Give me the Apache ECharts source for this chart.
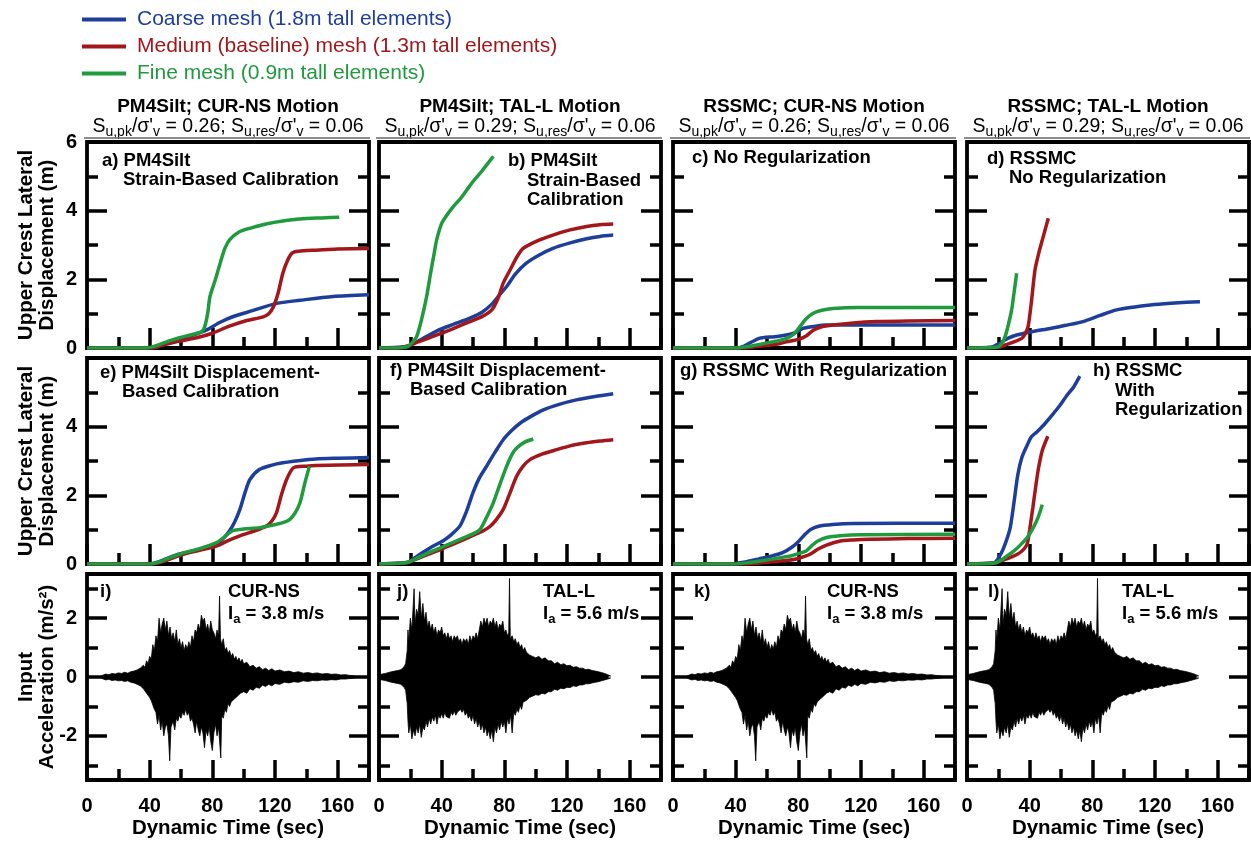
<!DOCTYPE html>
<html><head><meta charset="utf-8">
<script src="https://cdn.jsdelivr.net/npm/echarts@6/dist/echarts.min.js"></script>
<style>html,body{margin:0;padding:0;background:#fff}#c{width:1251px;height:841px}</style>
</head><body><div id="c"></div><script>
// ---------------- DATA ----------------
const meshNames = ['Coarse mesh (1.8m tall elements)', 'Medium (baseline) mesh (1.3m tall elements)', 'Fine mesh (0.9m tall elements)'];
const colHeaders = ['PM4Silt; CUR-NS Motion', 'PM4Silt; TAL-L Motion', 'RSSMC; CUR-NS Motion', 'RSSMC; TAL-L Motion'];
const suPk = ['0.26', '0.29', '0.26', '0.29'];
const suRes = ['0.06', '0.06', '0.06', '0.06'];
const xTicks = [0, 40, 80, 120, 160];

// displacement time histories [time (s), displacement (m)]
const coarseA = [[0,0],[40,0],[45,0.05],[50,0.15],[59,0.25],[68,0.38],[76,0.52],[85,0.75],[93,0.91],[105,1.08],[121,1.3],[136,1.39],[157,1.5],[180,1.55]];
const mediumA = [[0,0],[42,0],[48,0.08],[59,0.2],[70,0.3],[80,0.43],[90,0.62],[102,0.8],[112,0.9],[116,1.0],[119,1.2],[122,1.6],[125,2.18],[128,2.55],[131,2.77],[135,2.82],[146,2.85],[160,2.88],[180,2.9]];
const fineA = [[0,0],[38,0],[45,0.08],[52,0.2],[59,0.3],[66,0.38],[73,0.47],[75,0.6],[77,1.0],[78.5,1.5],[82,2.0],[85,2.47],[88,2.9],[91,3.15],[97,3.38],[105,3.5],[115,3.62],[125,3.7],[136,3.76],[150,3.79],[161,3.81]];

const coarseB = [[0,0],[12,0.02],[18,0.05],[25,0.2],[37,0.5],[47,0.68],[58,0.87],[66,1.05],[72.5,1.3],[77,1.55],[81.5,1.79],[87,2.15],[94,2.47],[102,2.7],[111,2.9],[122,3.06],[132.5,3.18],[141,3.25],[149.5,3.29]];
const mediumB = [[0,0],[12,0],[18,0.05],[25,0.18],[37,0.38],[47,0.56],[58,0.77],[66,0.92],[72,1.11],[76,1.45],[79.3,1.89],[84,2.3],[88,2.65],[92,2.9],[100,3.1],[111,3.29],[122,3.44],[132.5,3.54],[141,3.59],[149.5,3.61]];
const fineB = [[0,0],[14,0.01],[18.5,0.05],[21,0.15],[24,0.33],[27,0.8],[30.4,1.5],[33,2.2],[35,2.7],[36.8,3.15],[40,3.63],[43,3.85],[47.4,4.12],[52,4.35],[56,4.6],[60,4.85],[64.5,5.09],[69,5.35],[73,5.58]];

const coarseC = [[0,0],[40,0],[45,0.05],[55,0.28],[65,0.33],[72.5,0.38],[78,0.45],[83,0.57],[90,0.63],[98,0.67],[180,0.67]];
const mediumC = [[0,0],[45,0],[55,0.05],[65,0.1],[72.5,0.18],[80,0.25],[85,0.35],[89.5,0.52],[95,0.62],[102,0.67],[115,0.73],[130,0.77],[150,0.79],[180,0.8]];
const fineC = [[0,0],[40,0],[50,0.06],[60,0.15],[68,0.22],[72.5,0.28],[77,0.4],[81,0.62],[85,0.85],[89.5,1.01],[95,1.1],[102,1.15],[118,1.18],[180,1.18]];

const coarseD = [[0,0],[15,0.02],[21,0.14],[26,0.28],[31.7,0.38],[42,0.48],[53,0.57],[63,0.66],[74,0.77],[85,0.95],[95.5,1.11],[106,1.19],[117,1.25],[130,1.3],[140,1.33],[148.7,1.35]];
const mediumD = [[0,0],[20,0.02],[25,0.1],[30,0.18],[35,0.28],[37,0.4],[39,0.62],[41,1.3],[43.4,2.27],[46,2.8],[48.7,3.25],[51.9,3.78]];
const fineD = [[0,0],[19,0.02],[22,0.12],[24.3,0.33],[26.5,0.7],[28.5,1.11],[30,1.6],[31.7,2.18]];

const coarseE = [[0,0],[40,0],[45,0.05],[52,0.18],[59,0.29],[70,0.4],[80.6,0.53],[86,0.7],[91,0.97],[94,1.2],[97.6,1.59],[101,2.1],[104,2.46],[110,2.75],[118,2.88],[125,2.95],[135,3.01],[146,3.06],[160,3.08],[180,3.1]];
const mediumE = [[0,0],[42,0],[48,0.06],[55,0.18],[62,0.29],[72,0.4],[83,0.53],[90,0.68],[97.6,0.82],[106,0.95],[114.7,1.11],[118,1.25],[121,1.5],[124,2.0],[127.4,2.46],[131.7,2.8],[140,2.85],[146,2.87],[180,2.9]];
const fineE = [[0,0],[40,0],[46,0.06],[54,0.2],[62,0.33],[72,0.45],[83,0.63],[88,0.8],[93,0.97],[100,1.02],[110,1.06],[121,1.16],[126,1.22],[129.5,1.3],[133,1.5],[136,1.79],[139,2.35],[142,2.85]];

const coarseF = [[0,0],[12,0.02],[18.5,0.05],[25,0.25],[33,0.48],[41,0.68],[46,0.85],[51.7,1.11],[56,1.55],[60,2.08],[64,2.5],[68.7,2.85],[74,3.25],[79.3,3.62],[85,3.9],[90,4.1],[97,4.3],[104.9,4.49],[115,4.65],[126,4.78],[138,4.88],[149.5,4.96]];
const mediumF = [[0,0],[12,0.02],[18.5,0.05],[28,0.22],[38,0.4],[47.4,0.58],[57,0.77],[66.6,0.97],[71,1.1],[75,1.3],[79.3,1.59],[83,2.0],[87.9,2.56],[92,2.85],[96.4,3.04],[104,3.2],[113.4,3.33],[122,3.44],[132.5,3.53],[141,3.58],[149.5,3.62]];
const fineF = [[0,0],[12,0.02],[18.5,0.05],[28,0.25],[38,0.45],[47.4,0.63],[56,0.8],[61,0.9],[64.5,1.01],[68,1.3],[73,1.79],[77,2.3],[81.5,2.85],[85,3.2],[87.9,3.38],[93,3.55],[98.5,3.64]];

const coarseG = [[0,0],[38,0],[45,0.05],[55,0.15],[63.6,0.24],[70,0.33],[75.6,0.48],[80,0.65],[84,0.85],[87.6,1.0],[93,1.1],[102,1.15],[115,1.18],[180,1.19]];
const mediumG = [[0,0],[44,0],[55,0.03],[65,0.07],[72,0.1],[78,0.14],[84,0.22],[88,0.3],[92.4,0.43],[98,0.55],[106.8,0.67],[115,0.7],[126,0.72],[150,0.74],[180,0.75]];
const fineG = [[0,0],[40,0],[50,0.05],[60,0.12],[68,0.18],[75.6,0.24],[80,0.3],[85,0.38],[89,0.55],[92.4,0.67],[98,0.77],[106.8,0.82],[120,0.85],[180,0.87]];

const coarseH = [[0,0],[15,0.02],[18,0.05],[21.6,0.29],[24.5,0.6],[27.6,1.06],[30,1.8],[32.4,2.59],[35,3.1],[38.4,3.46],[41,3.7],[44.4,3.84],[49,4.05],[54,4.32],[59,4.6],[63.6,4.9],[68,5.15],[72,5.47]];
const mediumH = [[0,0],[18,0.03],[22,0.1],[27,0.18],[32.4,0.29],[36,0.42],[38.4,0.58],[40,1.0],[42,1.63],[44,2.3],[45.6,2.78],[48,3.3],[51.6,3.72]];
const fineH = [[0,0],[18,0.03],[22,0.12],[26,0.25],[30,0.38],[34,0.55],[38.4,0.77],[41,0.95],[44.4,1.25],[46.5,1.5],[48,1.73]];

// input motions: envelope of acceleration [time (s), acc (m/s2)]
const curnsUpper = [[0,0],[8,0],[10,0.06],[12,0.1],[14,0.08],[16,0.12],[18,0.1],[20,0.14],[22,0.12],[24,0.16],[26,0.13],[28,0.18],[30,0.2],[31,0.16],[32,0.24],[33,0.2],[34,0.3],[35,0.25],[36,0.4],[37,0.32],[38,0.55],[39,0.45],[40,0.7],[41,0.6],[42,1.1],[43,0.9],[44,1.4],[45,1.2],[46,2.0],[47,1.5],[48,1.8],[49,2.0],[50,1.6],[51,1.9],[52,1.4],[53,1.7],[54,1.3],[55,1.5],[56,1.2],[57,1.6],[58,1.1],[59,1.3],[60,1.0],[61,1.2],[62,0.9],[63,1.1],[64,0.95],[65,1.2],[66,1.0],[67,1.4],[68,1.2],[69,1.6],[70,1.5],[71,1.8],[72,1.6],[73,2.1],[74,1.9],[75,2.0],[76,1.6],[77,1.8],[78,1.5],[79,1.9],[80,1.6],[81,1.5],[82,1.3],[83,1.6],[84,1.4],[84.6,2.75],[85.2,1.3],[86,1.1],[87,1.3],[88,0.9],[89,1.0],[90,0.8],[91,0.9],[92,0.7],[93,0.8],[94,0.6],[95,0.7],[96,0.55],[97,0.65],[98,0.5],[99,0.6],[100,0.45],[102,0.5],[104,0.35],[106,0.4],[108,0.3],[110,0.35],[112,0.25],[114,0.3],[116,0.22],[118,0.28],[120,0.2],[123,0.24],[126,0.18],[129,0.2],[132,0.15],[135,0.18],[138,0.13],[141,0.15],[144,0.12],[147,0.14],[150,0.1],[153,0.12],[156,0.09],[159,0.1],[162,0.07],[165,0.08],[168,0.05],[171,0.03],[174,0],[180,0]];
const curnsLower = [[0,0],[8,0],[10,-0.06],[12,-0.1],[14,-0.08],[16,-0.12],[18,-0.1],[20,-0.13],[22,-0.12],[24,-0.15],[26,-0.13],[28,-0.18],[30,-0.2],[31,-0.17],[32,-0.25],[33,-0.2],[34,-0.3],[35,-0.28],[36,-0.4],[37,-0.35],[38,-0.55],[39,-0.5],[40,-0.7],[41,-0.8],[42,-0.95],[43,-1.1],[44,-1.2],[45,-1.6],[46,-1.3],[47,-1.8],[48,-1.5],[49,-2.0],[50,-1.7],[51,-1.6],[52,-2.0],[52.8,-2.85],[53.6,-1.7],[55,-1.5],[56,-1.8],[57,-1.4],[58,-1.5],[59,-1.3],[60,-1.4],[61,-1.2],[62,-1.3],[63,-1.1],[64,-1.3],[65,-1.2],[66,-1.5],[67,-1.4],[68,-1.6],[69,-1.9],[70,-1.5],[71,-1.8],[72,-2.0],[73,-1.7],[74,-1.9],[75,-2.4],[76,-1.8],[77,-2.0],[78,-1.7],[79,-2.2],[80,-2.5],[81,-1.9],[82,-1.6],[83,-2.0],[84,-1.7],[85.4,-2.75],[86,-1.3],[87,-1.4],[88,-1.1],[89,-1.2],[90,-0.9],[91,-1.0],[92,-0.85],[93,-0.9],[94,-0.75],[95,-0.8],[96,-0.65],[97,-0.7],[98,-0.55],[99,-0.6],[100,-0.5],[102,-0.55],[104,-0.4],[106,-0.45],[108,-0.35],[110,-0.38],[112,-0.28],[114,-0.32],[116,-0.25],[118,-0.3],[120,-0.22],[123,-0.25],[126,-0.18],[129,-0.2],[132,-0.16],[135,-0.18],[138,-0.13],[141,-0.15],[144,-0.12],[147,-0.13],[150,-0.1],[153,-0.11],[156,-0.09],[159,-0.1],[162,-0.07],[165,-0.07],[168,-0.05],[171,-0.03],[174,0],[180,0]];
const tallUpper = [[0,0.08],[2,0.1],[4,0.12],[6,0.15],[8,0.18],[10,0.2],[12,0.22],[14,0.25],[15,0.3],[16,0.35],[17,0.45],[18,0.9],[18.5,1.6],[19,1.2],[20,2.0],[21,1.6],[22.4,3.0],[23,1.8],[24,2.3],[25,2.1],[26,2.9],[27,2.0],[28,2.5],[29,1.9],[30,2.2],[31,1.7],[32,1.9],[33,1.6],[34,1.8],[35,1.5],[36,1.7],[37,1.4],[38,1.6],[39,1.5],[40,1.7],[41,1.4],[42,1.5],[43,1.3],[44,1.5],[45,1.3],[46,1.4],[47,1.2],[48,1.4],[49,1.3],[50,1.4],[51,1.2],[52,1.3],[53,1.1],[54,1.3],[55,1.2],[56,1.3],[57,1.1],[58,1.4],[59,1.2],[60,1.4],[61,1.3],[62,1.5],[63,1.3],[64,1.6],[65,1.9],[66,1.7],[67,2.0],[68,1.8],[69,2.0],[70,1.7],[71,1.9],[72,1.8],[73,2.0],[74,1.7],[75,1.9],[76,1.6],[77,1.8],[78,1.7],[79,1.9],[80,1.5],[81,1.6],[82,1.4],[82.8,1.5],[83.3,3.35],[83.8,1.3],[85,1.4],[86,1.2],[87,1.3],[88,1.1],[89,1.2],[90,1.0],[91,1.1],[92,0.9],[93,1.0],[94,0.85],[95,0.8],[96,0.75],[97,0.8],[98,0.7],[99,0.75],[100,0.65],[102,0.7],[104,0.6],[106,0.65],[108,0.55],[110,0.55],[112,0.45],[114,0.5],[116,0.42],[118,0.45],[120,0.38],[122,0.4],[124,0.33],[126,0.35],[128,0.3],[130,0.3],[132,0.25],[134,0.26],[136,0.22],[138,0.2],[140,0.18],[142,0.15],[144,0.12],[146,0.08],[148,0.03]];
const tallLower = [[0,-0.08],[2,-0.1],[4,-0.12],[6,-0.15],[8,-0.18],[10,-0.2],[12,-0.22],[14,-0.25],[15,-0.3],[16,-0.35],[17,-0.45],[18,-0.9],[18.5,-1.5],[19,-1.9],[20,-1.6],[21,-2.1],[22,-1.8],[23,-2.0],[24,-1.7],[25,-1.9],[26,-1.6],[27,-2.05],[28,-1.7],[29,-1.8],[30,-1.5],[31,-1.7],[32,-1.4],[33,-1.6],[34,-1.35],[35,-1.5],[36,-1.3],[37,-1.6],[38,-1.3],[39,-1.4],[40,-1.25],[41,-1.4],[42,-1.2],[43,-1.35],[44,-1.3],[45,-1.4],[46,-1.2],[47,-1.3],[48,-1.15],[49,-1.3],[50,-1.2],[51,-1.25],[52,-1.1],[53,-1.2],[54,-1.1],[55,-1.3],[56,-1.2],[57,-1.4],[58,-1.3],[59,-1.5],[60,-1.3],[61,-1.6],[62,-1.4],[63,-1.7],[64,-1.5],[65,-1.8],[66,-1.6],[67,-1.9],[68,-1.7],[69,-2.0],[70,-1.8],[71,-2.1],[72,-1.8],[73,-2.2],[74,-1.7],[75,-1.9],[76,-1.6],[77,-1.8],[78,-1.5],[79,-1.7],[80,-1.5],[81,-1.9],[82,-1.4],[83,-1.6],[84,-1.3],[85,-1.9],[86,-1.2],[87,-1.3],[88,-1.1],[89,-1.2],[90,-0.95],[91,-1.1],[92,-0.85],[93,-0.9],[94,-0.8],[95,-0.75],[96,-0.7],[97,-0.75],[98,-0.65],[99,-0.7],[100,-0.6],[102,-0.62],[104,-0.55],[106,-0.58],[108,-0.5],[110,-0.5],[112,-0.42],[114,-0.45],[116,-0.38],[118,-0.4],[120,-0.35],[122,-0.36],[124,-0.3],[126,-0.32],[128,-0.27],[130,-0.27],[132,-0.23],[134,-0.23],[136,-0.2],[138,-0.18],[140,-0.16],[142,-0.13],[144,-0.1],[146,-0.07],[148,-0.03]];

const panelTexts = [
  ['a) PM4Silt', 'Strain-Based Calibration'],
  ['b) PM4Silt', 'Strain-Based', 'Calibration'],
  ['c) No Regularization'],
  ['d) RSSMC', 'No Regularization'],
  ['e) PM4Silt Displacement-', 'Based Calibration'],
  ['f) PM4Silt Displacement-', 'Based Calibration'],
  ['g) RSSMC With Regularization'],
  ['h) RSSMC', 'With', 'Regularization'],
  ['i)'], ['j)'], ['k)'], ['l)']
];
const motionNames = ['CUR-NS', 'TAL-L', 'CUR-NS', 'TAL-L'];
const motionIa = ['3.8', '5.6', '3.8', '5.6'];

// ---------------- LAYOUT / STYLE ----------------
const FONT = '"Liberation Sans", Arial, Helvetica, sans-serif';
const colLeft = [87, 379, 673, 967];
const rowTop = [142, 358, 574];
const W = 282, H = 206;
const meshColors = ['#1d3f9b', '#a3171b', '#1f9b3e'];
const panelTextPos = [
  [[102,161],[123,180]],
  [[508,161],[527,181],[527,200]],
  [[692,158]],
  [[987,159],[1009,178]],
  [[100,373],[122,392]],
  [[390,371],[410,390]],
  [[680,371]],
  [[1093,371],[1115,391],[1115,410]],
  [[100,592]],[[397,592]],[[694,592]],[[988,592]]
];
const motionTextX = [228, 543, 827, 1122];

const dispPanels = [
  [coarseA, mediumA, fineA], [coarseB, mediumB, fineB], [coarseC, mediumC, fineC], [coarseD, mediumD, fineD],
  [coarseE, mediumE, fineE], [coarseF, mediumF, fineF], [coarseG, mediumG, fineG], [coarseH, mediumH, fineH]
];
const motions = [[curnsUpper, curnsLower], [tallUpper, tallLower], [curnsUpper, curnsLower], [tallUpper, tallLower]];

const grids = [], xAxes = [], yAxes = [], series = [], graphics = [];
const tickStyle = {color: '#000', width: 3.5};
const labelStyle = {fontSize: 20, fontWeight: 'bold', color: '#000', fontFamily: FONT};
for (let r = 0; r < 3; r++) {
  for (let c = 0; c < 4; c++) {
    const g = r * 4 + c;
    const isAcc = r === 2;
    grids.push({left: colLeft[c], top: rowTop[r], width: W, height: H, show: true,
      borderColor: '#000', borderWidth: 3.8, backgroundColor: 'rgba(0,0,0,0)'});
    xAxes.push({gridIndex: g, type: 'value', min: 0, max: 180, interval: 40, position: 'bottom',
      axisLine: {show: false, onZero: false}, splitLine: {show: false},
      axisTick: {show: true, inside: true, length: 20, lineStyle: tickStyle},
      axisLabel: Object.assign({show: isAcc, showMaxLabel: false, margin: 16,
        formatter: v => xTicks.indexOf(v) >= 0 ? String(v) : ''}, labelStyle)});
    xAxes.push({gridIndex: g, type: 'value', min: 0, max: 180, interval: 20, position: 'bottom',
      axisLine: {show: false, onZero: false}, splitLine: {show: false},
      axisTick: {show: true, inside: true, length: 11, lineStyle: tickStyle}, axisLabel: {show: false}});
    ['left', 'right'].forEach(side => {
      const major = isAcc ? {min: -3.5, max: 3.5, splitNumber: 3} : {min: 0, max: 6, interval: 2};
      const minor = isAcc ? {min: -3.5, max: 3.5, splitNumber: 7} : {min: 0, max: 6, interval: 1};
      yAxes.push(Object.assign({gridIndex: g, type: 'value', position: side,
        axisLine: {show: false, onZero: false}, splitLine: {show: false},
        axisTick: {show: true, inside: true, length: 20, lineStyle: tickStyle},
        axisLabel: Object.assign({show: side === 'left' && c === 0, showMaxLabel: r === 0, showMinLabel: !isAcc,
          margin: 10, formatter: v => (Math.abs(v - Math.round(v)) < 1e-9 ? String(v) : '')}, labelStyle)}, major));
      yAxes.push(Object.assign({gridIndex: g, type: 'value', position: side,
        axisLine: {show: false, onZero: false}, splitLine: {show: false},
        axisTick: {show: true, inside: true, length: 11, lineStyle: tickStyle}, axisLabel: {show: false}}, minor));
    });
    if (!isAcc) {
      dispPanels[g].forEach((d, k) => {
        series.push({type: 'line', name: meshNames[k], xAxisIndex: g * 2, yAxisIndex: g * 4, data: d,
          symbol: 'none', showSymbol: false, smooth: 0.25, color: meshColors[k],
          lineStyle: {width: 3.5, color: meshColors[k]}, silent: true, z: 3});
      });
    } else {
      motions[c].forEach((d, k) => {
        series.push({type: 'line', name: 'acc' + g + '_' + k, xAxisIndex: g * 2, yAxisIndex: g * 4, data: d,
          symbol: 'none', showSymbol: false, color: '#000',
          lineStyle: {width: 0.8, color: '#000'}, areaStyle: {color: '#000', opacity: 1}, silent: true, z: 3});
      });
    }
    // panel annotation
    panelTexts[g].forEach((t, i) => {
      graphics.push({type: 'text', x: panelTextPos[g][i][0], y: panelTextPos[g][i][1], z: 10,
        style: {text: t, fill: '#000', font: 'bold 18.5px ' + FONT, textAlign: 'left', textVerticalAlign: 'middle'}});
    });
    if (isAcc) {
      graphics.push({type: 'text', x: motionTextX[c], y: 592, z: 10,
        style: {text: motionNames[c], fill: '#000', font: 'bold 18.5px ' + FONT, textAlign: 'left', textVerticalAlign: 'middle'}});
      graphics.push({type: 'text', x: motionTextX[c], y: 614, z: 10,
        style: {text: '{b|I}{s|a}{b| = ' + motionIa[c] + ' m/s}', textAlign: 'left', textVerticalAlign: 'middle',
          rich: {b: {fontSize: 18.5, fontWeight: 'bold', fontFamily: FONT, fill: '#000'},
                 s: {fontSize: 13, fontWeight: 'bold', fontFamily: FONT, fill: '#000', padding: [10, 0, 0, 0]}}}});
    }
  }
}
// column headers
for (let c = 0; c < 4; c++) {
  const cx = colLeft[c] + W / 2;
  graphics.push({type: 'text', x: cx, y: 107, style: {text: colHeaders[c], fill: '#000', font: 'bold 19px ' + FONT, textAlign: 'center', textVerticalAlign: 'middle'}});
  graphics.push({type: 'text', x: cx, y: 127, style: {
    text: '{n|S}{s|u,pk}{n|/σ\'}{s|v}{n| = ' + suPk[c] + '; S}{s|u,res}{n|/σ\'}{s|v}{n| = ' + suRes[c] + '}',
    textAlign: 'center', textVerticalAlign: 'middle',
    rich: {n: {fontSize: 19.5, fontFamily: FONT, fill: '#000'}, s: {fontSize: 14, fontFamily: FONT, fill: '#000', padding: [11, 0, 0, 0]}}}});
  graphics.push({type: 'line', shape: {x1: colLeft[c] - 3, y1: 138, x2: colLeft[c] + W + 1, y2: 138}, style: {stroke: '#666', lineWidth: 1.5}});
  graphics.push({type: 'text', x: cx, y: 828, style: {text: 'Dynamic Time (sec)', fill: '#000', font: 'bold 20.5px ' + FONT, textAlign: 'center', textVerticalAlign: 'middle'}});
}
// y axis titles
const yTitles = ['Upper Crest Lateral\nDisplacement (m)', 'Upper Crest Lateral\nDisplacement (m)', 'Input\nAcceleration (m/s²)'];
yTitles.forEach((t, r) => {
  graphics.push({type: 'text', x: 37, y: rowTop[r] + H / 2, rotation: Math.PI / 2,
    style: {text: t, fill: '#000', font: 'bold 20.5px ' + FONT, textAlign: 'center', textVerticalAlign: 'middle', lineHeight: 21}});
});

const chart = echarts.init(document.getElementById('c'), null, {renderer: 'canvas'});
chart.setOption({
  animation: false,
  backgroundColor: '#fff',
  legend: {
    orient: 'vertical', left: 82, top: 6, padding: 0, itemGap: 0, itemWidth: 44, itemHeight: 4,
    selectedMode: false, icon: 'rect',
    data: meshNames.map((n, i) => ({name: n, icon: 'rect', textStyle: {color: meshColors[i]}})),
    textStyle: {fontSize: 21, fontFamily: FONT, lineHeight: 27, padding: [0, 0, 0, 6]}
  },
  grid: grids, xAxis: xAxes, yAxis: yAxes, series: series, graphic: graphics
});
</script></body></html>
